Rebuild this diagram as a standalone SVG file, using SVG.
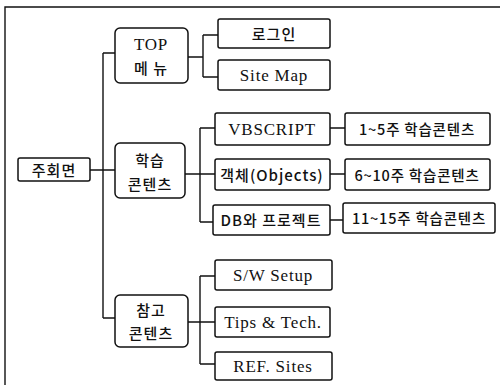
<svg xmlns="http://www.w3.org/2000/svg" width="504" height="388" viewBox="0 0 504 388">
<style>
.b{fill:#fff;stroke:#111;stroke-width:1.5}
.c{fill:none;stroke:#111;stroke-width:1.4}
text{font-family:"Liberation Serif","Noto Sans CJK KR",serif;font-size:17px;letter-spacing:0.8px;fill:#111;text-anchor:middle;dominant-baseline:central}
.k{font-family:"Noto Sans CJK KR","Noto Sans",sans-serif;font-size:15px;font-weight:500;letter-spacing:1px}
.w{font-size:14.5px;letter-spacing:0.8px}
</style>
<rect width="504" height="388" fill="#fff"/>
<path class="c" d="M5,385 V7 H500"/>
<g id="connectors">
<path class="c" d="M90,170 H115 M103,53 V318 M103,53 H115 M103,318 H115"/>
<path class="c" d="M188,57 H203 M203,35 V77 M203,35 H218 M203,77 H218"/>
<path class="c" d="M185,174 H200 M200,128 V222 M200,128 H215 M200,174 H215 M200,222 H213"/>
<path class="c" d="M330,128 H345 M330,174 H345 M330,220 H343"/>
<path class="c" d="M188,322 H200 M200,276 V364 M200,276 H215 M200,322 H215 M200,364 H215"/>
</g>
<g id="main"><rect class="b" x="18" y="158" width="72" height="23" rx="2"/><text class="k" x="54" y="169">주회면</text></g>
<g id="top"><rect class="b" x="115" y="28" width="73" height="55" rx="5"/><text x="151" y="44">TOP</text><text class="k" x="151" y="67">메 뉴</text></g>
<g id="study"><rect class="b" x="115" y="143" width="70" height="55" rx="5"/><text class="k" x="150" y="159">학습</text><text class="k" x="150" y="183">콘텐츠</text></g>
<g id="ref"><rect class="b" x="115" y="295" width="73" height="52" rx="5"/><text class="k" x="151" y="309">참고</text><text class="k" x="151" y="332">콘텐츠</text></g>
<g id="login"><rect class="b" x="218" y="19" width="112" height="29" rx="2"/><text class="k" x="274" y="33">로그인</text></g>
<g id="sitemap"><rect class="b" x="218" y="60" width="112" height="30" rx="2"/><text x="274" y="75">Site Map</text></g>
<g id="vbscript"><rect class="b" x="215" y="113" width="115" height="32" rx="2"/><text x="272" y="129">VBSCRIPT</text></g>
<g id="objects"><rect class="b" x="215" y="159" width="115" height="31" rx="2"/><text class="k" x="272" y="174">객체(Objects)</text></g>
<g id="db"><rect class="b" x="213" y="205" width="117" height="30" rx="2"/><text class="k" x="271" y="219">DB와 프로젝트</text></g>
<g id="w1"><rect class="b" x="345" y="113" width="145" height="32" rx="2"/><text class="k w" x="417" y="128">1~5주 학습콘텐츠</text></g>
<g id="w6"><rect class="b" x="345" y="159" width="145" height="31" rx="2"/><text class="k w" x="417" y="174">6~10주 학습콘텐츠</text></g>
<g id="w11"><rect class="b" x="343" y="203" width="152" height="30" rx="2"/><text class="k w" x="419" y="217">11~15주 학습콘텐츠</text></g>
<g id="sw"><rect class="b" x="215" y="260" width="117" height="30" rx="2"/><text x="273" y="275">S/W Setup</text></g>
<g id="tips"><rect class="b" x="215" y="307" width="115" height="30" rx="2"/><text x="273" y="322">Tips &amp; Tech.</text></g>
<g id="refsites"><rect class="b" x="215" y="352" width="117" height="28" rx="2"/><text x="273" y="366">REF. Sites</text></g>
</svg>
